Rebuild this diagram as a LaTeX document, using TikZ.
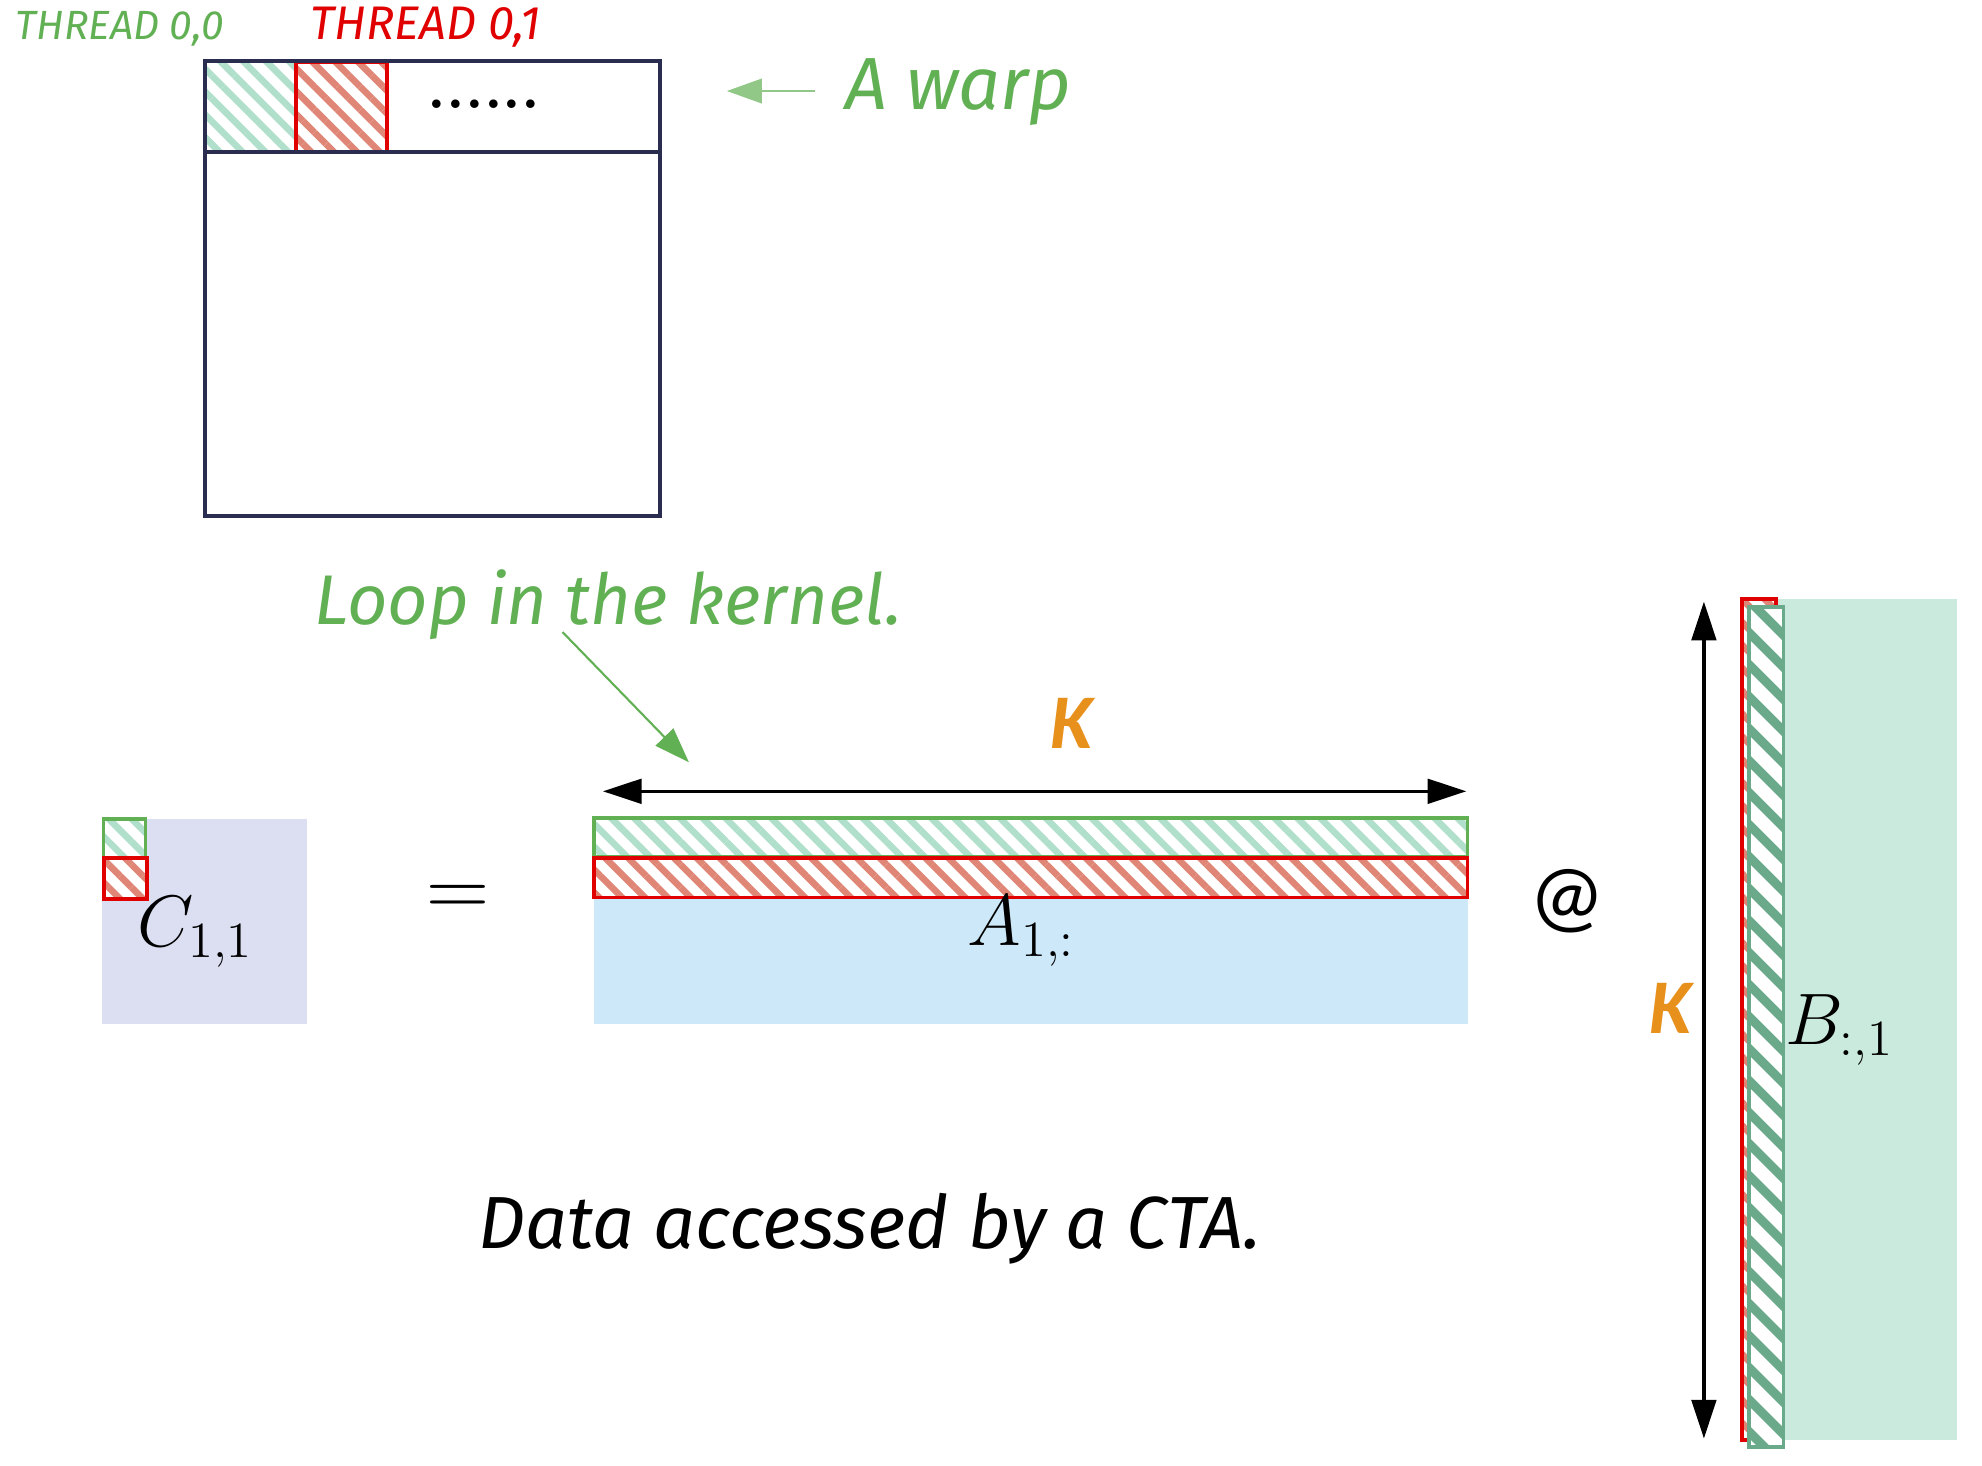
\documentclass[tikz,border=0pt]{standalone}
\usepackage{fontspec}
\newfontfamily\hand{Fira Sans}
\newfontfamily\calib{Carlito}
\usetikzlibrary{patterns.meta,arrows.meta}
\definecolor{tgreen}{RGB}{98,176,84}
\definecolor{tred}{RGB}{224,0,0}
\definecolor{hgreen}{RGB}{176,224,204}
\definecolor{hred}{RGB}{224,134,118}
\definecolor{lav}{RGB}{220,223,242}
\definecolor{lblue}{RGB}{205,233,249}
\definecolor{bfill}{RGB}{203,234,222}
\definecolor{bdark}{RGB}{106,170,138}
\definecolor{korange}{RGB}{232,144,28}
\definecolor{navy}{RGB}{42,45,80}
\begin{document}
\begin{tikzpicture}[x=0.01264cm,y=-0.01264cm,
  hatchG/.style={pattern={Lines[angle=-45,distance=4.6pt,line width=1.9pt]},pattern color=hgreen},
  hatchR/.style={pattern={Lines[angle=-45,distance=4.6pt,line width=1.9pt]},pattern color=hred},
  hatchB/.style={pattern={Lines[angle=-45,distance=6.4pt,line width=2.6pt]},pattern color=bdark},
  handtxt/.style={inner sep=0pt,font=\hand\itshape},
  mathtxt/.style={inner sep=0pt,font=\fontsize{22}{26}\selectfont},
  dbl/.style={line width=0.9pt,{Triangle[length=11pt,width=7pt]}-{Triangle[length=11pt,width=7pt]}},
  garrow/.style={draw=tgreen,line width=0.6pt,-{Triangle[length=10pt,width=7pt]},tgreen}]
\useasboundingbox (0,0) rectangle (1568,1159);

% ---------- top: warp box ----------
\fill[white] (163,49) rectangle (306,120);
\path[hatchG] (163,49) rectangle (234,120);
\path[hatchR] (234,49) rectangle (306,120);
\draw[tred,line width=1.1pt] (234,49) rectangle (306,120);
\draw[navy,line width=1.1pt] (162,48) rectangle (522,408);
\draw[navy,line width=1.1pt] (162,120) -- (522,120);
\node[inner sep=0pt,anchor=base,font=\bfseries\fontsize{17}{20}\selectfont] (dots) at (383,86) {......};

\node[handtxt,text=tgreen,anchor=base west,font=\hand\itshape\fontsize{11.6}{13}\selectfont] (t00) at (12,31) {THREAD 0,0};
\node[handtxt,text=tred,anchor=base west,font=\hand\itshape\fontsize{13.4}{15}\selectfont] (t01) at (245,31) {THREAD 0,1};

\node[handtxt,text=tgreen,anchor=base west,font=\hand\itshape\fontsize{21}{24}\selectfont] (awarp) at (668,87) {A warp};
\coordinate (warptail) at (645,72);
\coordinate (warptip) at (575,72);
\draw[garrow,draw=tgreen!70] (warptail) -- (warptip);

% ---------- loop label ----------
\node[handtxt,text=tgreen,anchor=base west,font=\hand\itshape\fontsize{20}{23}\selectfont] (loop) at (248,494) {Loop in the kernel.};
\coordinate (looptail) at (445,500);
\coordinate (looptip) at (545,603);
\draw[garrow] (looptail) -- (looptip);

% ---------- C block ----------
\fill[lav] (81,648) rectangle (243,810);
\fill[white] (82,648) rectangle (116,711);
\path[hatchG] (82,648) rectangle (115,679);
\draw[tgreen,line width=1pt] (82,648) rectangle (115,679);
\path[hatchR] (82,679) rectangle (116,711);
\draw[tred,line width=1.1pt] (82,679) rectangle (116,711);
\node[mathtxt,anchor=base west] (C) at (108,749) {$C_{1,1}$};

\node[mathtxt,font=\fontsize{26}{30}\selectfont] (eq) at (362,713) {$=$};

% ---------- A block ----------
\fill[lblue] (470,647) rectangle (1161,810);
\fill[white] (470,647) rectangle (1161,710);
\path[hatchG] (470,647) rectangle (1161,678);
\draw[tgreen,line width=1pt] (470,647) rectangle (1161,678);
\path[hatchR] (470,679) rectangle (1161,710);
\draw[tred,line width=1.1pt] (470,679) rectangle (1161,710);
\node[mathtxt,anchor=base west] (A) at (765,748) {$A_{1,:}$};

\coordinate (kl) at (477,626);
\coordinate (kr) at (1160,626);
\draw[dbl] (kl) -- (kr);
\node[inner sep=0pt,text=korange,font=\calib\bfseries\itshape\fontsize{22}{26}\selectfont] (K1) at (848,572) {K};

\node[inner sep=0pt,font=\calib\fontsize{24}{28}\selectfont] (at) at (1240,713) {@};

% ---------- B block ----------
\fill[bfill] (1378,474) rectangle (1548,1139);
\fill[white] (1378,474) rectangle (1405,1139);
\path[hatchR] (1378,474) rectangle (1405,1139);
\draw[tred,line width=1.1pt] (1378,474) rectangle (1405,1139);
\fill[white] (1384,480) rectangle (1411,1145);
\path[hatchB] (1384,480) rectangle (1411,1145);
\draw[bdark,line width=1.1pt] (1384,480) rectangle (1411,1145);
\node[mathtxt,anchor=base west] (B) at (1412,826) {$B_{:,1}$};

\coordinate (kt) at (1348,476);
\coordinate (kb) at (1348,1138);
\draw[dbl] (kt) -- (kb);
\node[inner sep=0pt,text=korange,font=\calib\bfseries\itshape\fontsize{22}{26}\selectfont] (K2) at (1322,798) {K};

% ---------- caption ----------
\node[handtxt,anchor=base west,font=\hand\itshape\fontsize{21}{24}\selectfont] (cap) at (378,988) {Data accessed by a CTA.};
\end{tikzpicture}
\end{document}
